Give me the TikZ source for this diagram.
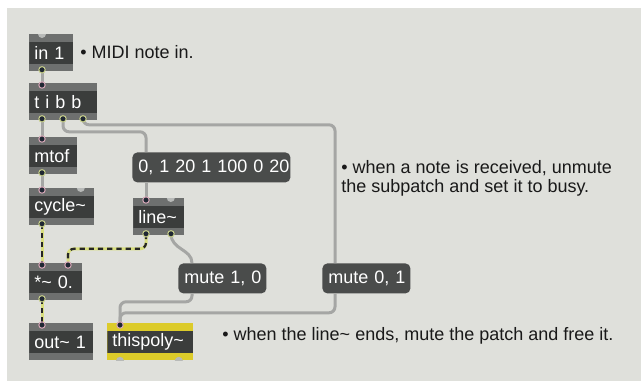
\documentclass[tikz,border=0pt]{standalone}
\usepackage{fontspec}
\setmainfont{Liberation Sans}
\usetikzlibrary{calc,positioning}

\definecolor{patchbg}{RGB}{223,224,219}
\definecolor{objdark}{RGB}{59,61,60}
\definecolor{objband}{RGB}{110,112,111}
\definecolor{msgdark}{RGB}{74,76,75}
\definecolor{cordgray}{RGB}{165,166,164}
\definecolor{sigyellow}{RGB}{216,222,126}
\definecolor{polyyellow}{RGB}{220,203,42}
\definecolor{notchgray}{RGB}{184,186,184}
\definecolor{portdark}{RGB}{31,39,51}
\definecolor{inletpink}{RGB}{216,168,184}
\definecolor{outletgreen}{RGB}{200,208,138}

\newcommand{\patchfont}{\fontsize{9}{9.4}\selectfont}
\newcommand{\tld}{\textasciitilde}

\tikzset{
  obj/.style={anchor=north west, fill=objband, text=white, font=\patchfont,
    inner xsep=2.5pt, inner ysep=0pt, align=left, minimum height=18.5pt,
    path picture={\fill[objdark] ([yshift=-4pt]path picture bounding box.north west)
      rectangle ([yshift=3.5pt]path picture bounding box.south east);}},
  msg/.style={anchor=north west, fill=msgdark, rounded corners=2.5pt, text=white,
    font=\patchfont, inner xsep=3pt, inner ysep=0pt, align=left, minimum height=15pt},
  note/.style={anchor=west, text=black!90, font=\patchfont, align=left, inner sep=0pt},
  cord/.style={draw=cordgray, line width=1.5pt, rounded corners=3pt},
  sig/.style={draw=sigyellow, line width=1.5pt, rounded corners=3pt,
    postaction={draw=black!85, line width=1.1pt, dash pattern=on 2.6pt off 2pt}},
  inlet/.style={fill=portdark, draw=inletpink, line width=0.5pt},
  outlet/.style={fill=portdark, draw=outletgreen, line width=0.5pt},
  notch/.style={fill=notchgray}
}

\begin{document}
\begin{tikzpicture}[x=0.5pt, y=-0.5pt]
  \useasboundingbox (0,0) rectangle (641,381);
  \fill[patchbg] (7,8) rectangle (641,381);

  % objects
  \node[obj, text width=17pt] (in1) at (29,34) {in 1};
  \node[obj, text width=29pt] (tibb) at (29,83) {t i b b};
  \node[obj, text width=19pt] (mtof) at (29,137) {mtof};
  \node[obj, text width=27.5pt] (cyc) at (29,188) {cycle\tld};
  \node[obj, text width=20.5pt] (line) at (133,198) {line\tld};
  \node[obj, text width=21.5pt] (mul) at (29,263) {*\tld{} 0.};
  \node[obj, text width=27pt] (out) at (29,323) {out\tld{} 1};
  \node[obj, fill=polyyellow, text width=38pt] (poly) at (107,323) {thispoly\tld};
  \node[msg, text width=73pt] (ramp) at (132,152) {\mbox{0, 1 20 1 100 0 20}};
  \node[msg, text width=38pt] (mute10) at (178,263) {\mbox{mute 1, 0}};
  \node[msg, text width=38pt] (mute01) at (322,263) {\mbox{mute 0, 1}};

  % comments
  \node[note] (cmtin) at (80,52) {\textbullet{} MIDI note in.};
  \node[note] (cmtbusy) at (341,178) {\textbullet{} when a note is received, unmute\\the subpatch and set it to busy.};
  \node[note] (cmtfree) at (222,336) {\textbullet{} when the line\tld{} ends, mute the patch and free it.};

  % ports
  \coordinate (in1-o1) at ($(in1.south west)+(13,-2)$);
  \coordinate (tibb-i1) at ($(tibb.north west)+(13,2)$);
  \coordinate (tibb-o1) at ($(tibb.south west)+(13,-2)$);
  \coordinate (tibb-o2) at ($(tibb.south west)+(34,-2)$);
  \coordinate (tibb-o3) at ($(tibb.south west)+(54,-2)$);
  \coordinate (mtof-i1) at ($(mtof.north west)+(13,2)$);
  \coordinate (mtof-o1) at ($(mtof.south west)+(13,-2)$);
  \coordinate (cyc-i1) at ($(cyc.north west)+(13,2)$);
  \coordinate (cyc-o1) at ($(cyc.south west)+(13,-2)$);
  \coordinate (ramp-i1) at ($(ramp.north west)+(14,0)$);
  \coordinate (ramp-o1) at ($(ramp.south west)+(14,0)$);
  \coordinate (line-i1) at ($(line.north west)+(13,2)$);
  \coordinate (line-o1) at ($(line.south west)+(13,-2)$);
  \coordinate (line-o2) at ($(line.south west)+(38,-2)$);
  \coordinate (mul-i1) at ($(mul.north west)+(13,2)$);
  \coordinate (mul-i2) at ($(mul.north west)+(39,2)$);
  \coordinate (mul-o1) at ($(mul.south west)+(13,-2)$);
  \coordinate (out-i1) at ($(out.north west)+(13,2)$);
  \coordinate (poly-i1) at ($(poly.north west)+(13,2)$);
  \coordinate (mute10-i1) at ($(mute10.north west)+(14,0)$);
  \coordinate (mute10-o1) at ($(mute10.south west)+(14,0)$);
  \coordinate (mute01-i1) at ($(mute01.north west)+(13,0)$);
  \coordinate (mute01-o1) at ($(mute01.south west)+(13,0)$);

  % patch cords
  \draw[cord] (in1-o1) -- (tibb-i1);
  \draw[cord] (tibb-o1) -- (mtof-i1);
  \draw[cord] (mtof-o1) -- (cyc-i1);
  \draw[cord] (tibb-o2) -- ++(0,13) -| (ramp-i1);
  \draw[cord] (ramp-o1) -- (line-i1);
  \draw[cord] (tibb-o3) -- ++(0,6) -| (mute01-i1);
  \draw[cord] (line-o2) .. controls ++(0,16) and ($(mute10-i1)+(0,-14)$) .. (mute10-i1);
  \draw[cord] (mute01-o1) -- ++(0,19) -| (poly-i1);
  \draw[cord] (mute10-o1) -- ++(0,8) -| (poly-i1);
  \draw[sig] (cyc-o1) -- (mul-i1);
  \draw[sig] (line-o1) -- ++(0,15) -| (mul-i2);
  \draw[sig] (mul-o1) -- (out-i1);

  % unused inlets and outlets
  \fill[notch] ($(in1.north west)+(9,0)$) arc[start angle=180, end angle=0, radius=4];
  \fill[notch] ($(cyc.north east)+(-18,0)$) arc[start angle=180, end angle=0, radius=4];
  \fill[notch] ($(line.north east)+(-18,0)$) arc[start angle=180, end angle=0, radius=4];
  \fill[notch] ($(poly.south west)+(9,0)$) arc[start angle=180, end angle=360, radius=4];
  \fill[notch] ($(poly.south east)+(-19,0)$) arc[start angle=180, end angle=360, radius=4];

  \foreach \p in {tibb-i1, mtof-i1, cyc-i1, line-i1, mul-i1, mul-i2, out-i1, poly-i1}
    \filldraw[inlet] (\p) circle[radius=1.6pt];
  \foreach \p in {in1-o1, tibb-o1, tibb-o2, tibb-o3, mtof-o1, cyc-o1, line-o1, line-o2, mul-o1}
    \filldraw[outlet] (\p) circle[radius=1.6pt];
\end{tikzpicture}
\end{document}
